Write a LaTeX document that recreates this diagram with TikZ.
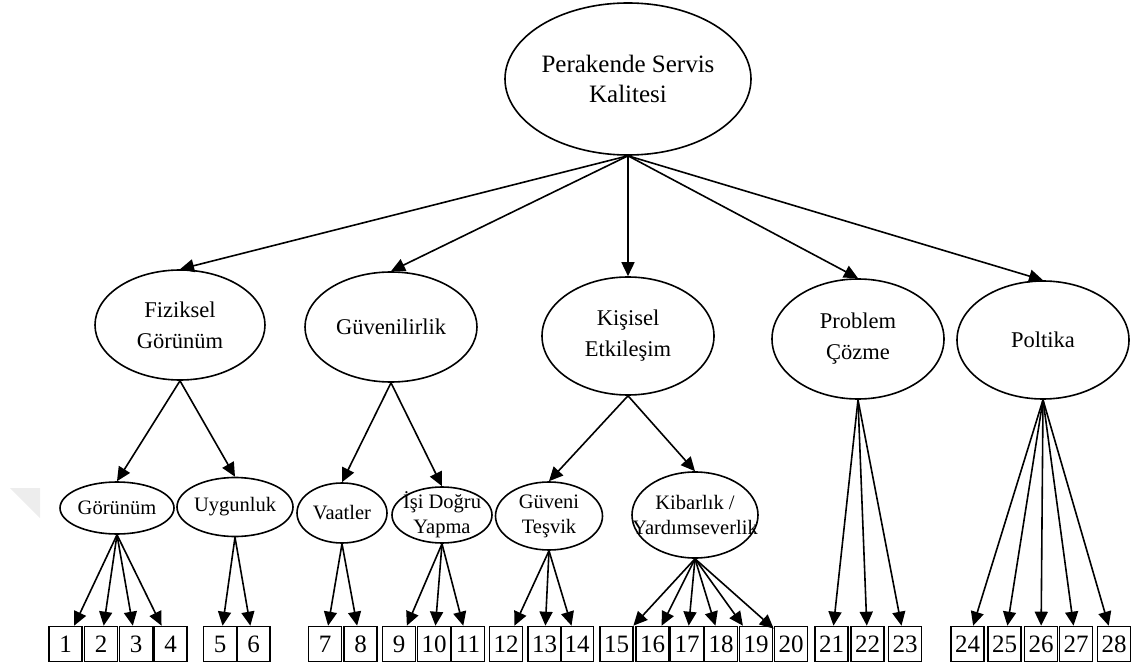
\documentclass[tikz,border=0pt]{standalone}
\usepackage{fontspec}
\setmainfont{Liberation Serif}
\usetikzlibrary{shapes.geometric,arrows.meta}
\begin{document}
\begin{tikzpicture}[x=1pt,y=-1pt,
  oval/.style={draw,ellipse,line width=1.6pt,inner sep=0pt},
  bigtext/.style={font=\fontsize{25}{30}\selectfont,align=center,inner sep=0pt},
  midtext/.style={font=\fontsize{22.5}{31}\selectfont,align=center,inner sep=0pt},
  smalltext/.style={font=\fontsize{20.5}{25}\selectfont,align=center,inner sep=0pt},
  item/.style={draw,rectangle,line width=1.6pt,minimum width=33pt,minimum height=35pt,
    inner sep=0pt,font=\fontsize{25}{25}\selectfont},
  link/.style={line width=1.6pt,-{Triangle[length=14pt,width=13pt]}}]
\useasboundingbox (0,0) rectangle (1138,668);

% faint mark at the left margin
\fill[black!7] (10,488) -- (40,488) -- (40,518) -- cycle;

% root
\node[oval,minimum width=246pt,minimum height=152pt,
  label={[bigtext]center:{Perakende Servis\\Kalitesi}}] (top) at (628,79) {};

% dimensions
\node[oval,minimum width=170pt,minimum height=110pt,
  label={[midtext]center:{Fiziksel\\Görünüm}}] (fiz) at (180,325) {};
\node[oval,minimum width=172pt,minimum height=110pt,
  label={[midtext]center:{Güvenilirlik}}] (guv) at (391,327) {};
\node[oval,minimum width=172pt,minimum height=118pt,
  label={[midtext]center:{Kişisel\\Etkileşim}}] (kis) at (628,336) {};
\node[oval,minimum width=172pt,minimum height=120pt,
  label={[midtext]center:{Problem\\Çözme}}] (prob) at (858,339) {};
\node[oval,minimum width=172pt,minimum height=118pt,
  label={[midtext]center:{Poltika}}] (pol) at (1043,340) {};

% sub-dimensions
\node[oval,minimum width=114pt,minimum height=52pt,
  label={[smalltext]center:{Görünüm}}] (gor) at (117,508) {};
\node[oval,minimum width=116pt,minimum height=59pt,
  label={[smalltext]center:{Uygunluk}}] (uyg) at (235,507) {};
\node[oval,minimum width=90pt,minimum height=60pt,
  label={[smalltext]center:{Vaatler}}] (vaa) at (342,513) {};
\node[oval,minimum width=100pt,minimum height=56pt,
  label={[smalltext]center:{İşi Doğru\\Yapma}}] (isi) at (442,515) {};
\node[oval,minimum width=107pt,minimum height=68pt,
  label={[smalltext]center:{Güveni\\Teşvik}}] (gvt) at (549,516) {};
\node[oval,minimum width=126pt,minimum height=86pt,
  label={[smalltext]center:{Kibarlık /\\Yardımseverlik}}] (kib) at (695,515) {};

% items
\foreach \n/\x in {1/65.5,2/101,3/136,4/170.5,5/220,6/253.5,7/325,8/360.5,
  9/399,10/434,11/468,12/506,13/544.5,14/577,15/616.5,16/652.5,17/687,
  18/721,19/756,20/791,21/831.5,22/867.5,23/905,24/967.5,25/1004.5,
  26/1041,27/1076,28/1114}
  \node[item] (b\n) at (\x,644) {\n};

% connectors
\foreach \c in {fiz,guv,kis,prob,pol}
  \draw[link] (top.south) -- (\c.north);
\draw[link] (fiz.south) -- (gor.north);
\draw[link] (fiz.south) -- (uyg.north);
\draw[link] (guv.south) -- (vaa.north);
\draw[link] (guv.south) -- (isi.north);
\draw[link] (kis.south) -- (gvt.north);
\draw[link] (kis.south) -- (kib.north);
\foreach \n in {1,...,4} \draw[link] (gor.south) -- (b\n);
\foreach \n in {5,6} \draw[link] (uyg.south) -- (b\n);
\foreach \n in {7,8} \draw[link] (vaa.south) -- (b\n);
\foreach \n in {9,10,11} \draw[link] (isi.south) -- (b\n);
\foreach \n in {12,13,14} \draw[link] (gvt.south) -- (b\n);
\foreach \n in {15,...,20} \draw[link] (kib.south) -- (b\n);
\foreach \n in {21,22,23} \draw[link] (prob.south) -- (b\n);
\foreach \n in {24,...,28} \draw[link] (pol.south) -- (b\n);
\end{tikzpicture}
\end{document}
